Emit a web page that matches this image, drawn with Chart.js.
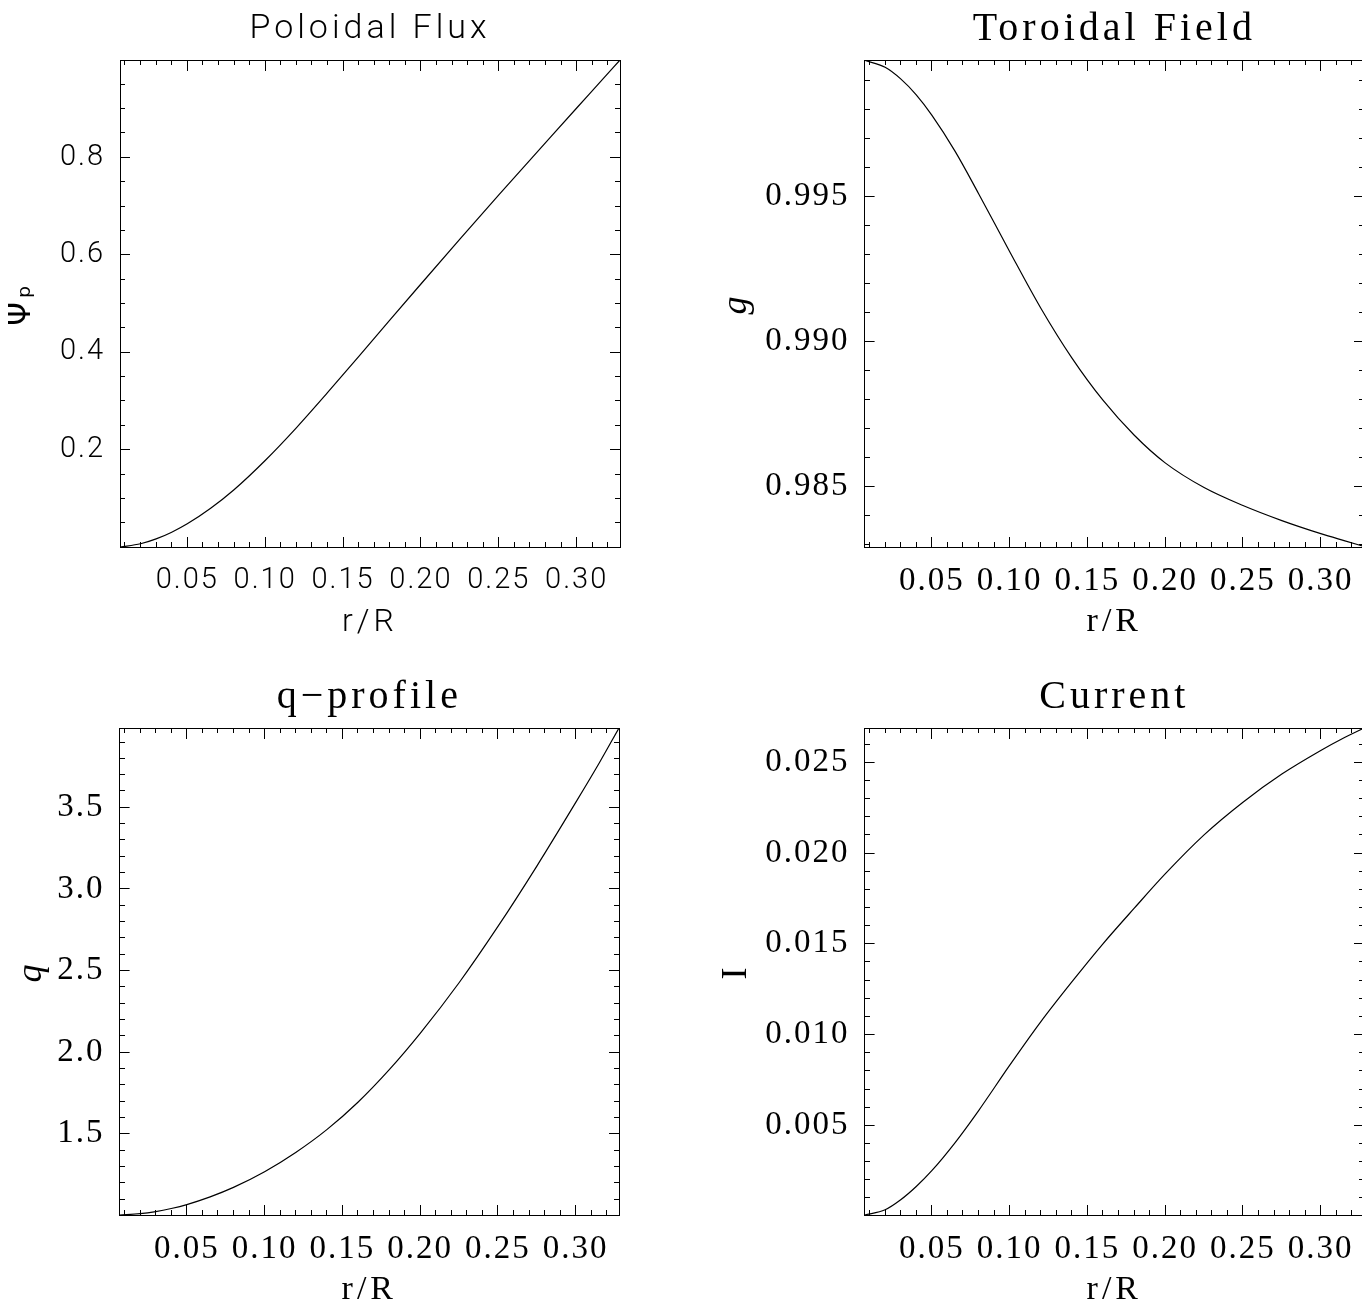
<!DOCTYPE html>
<html>
<head>
<meta charset="utf-8">
<title>Equilibrium profiles</title>
<script src="https://cdn.jsdelivr.net/npm/chart.js@4.4.1/dist/chart.umd.min.js"></script>
<style>
    html, body {
        margin: 0;
        padding: 0;
        background: #fff;
        width: 1362px;
        height: 1306px;
        overflow: hidden;
    }
    canvas {
        position: absolute;
    }
</style>
</head>
<body>
<canvas id="poloidal-flux-chart"></canvas>
<canvas id="toroidal-field-chart"></canvas>
<canvas id="q-profile-chart"></canvas>
<canvas id="current-chart"></canvas>
<script>
// r/R grid and the four profiles
const radius = [0.0068, 0.02, 0.03, 0.04, 0.05, 0.065, 0.08, 0.10, 0.12, 0.14, 0.16, 0.18, 0.20, 0.225, 0.25, 0.275, 0.30, 0.315, 0.3278];
const poloidalFlux = [0.0005, 0.0071, 0.0171, 0.0309, 0.0481, 0.080, 0.118, 0.178, 0.245, 0.317, 0.391, 0.466, 0.540, 0.632, 0.723, 0.812, 0.901, 0.954, 0.9995];
const toroidalField = [0.99969, 0.99945, 0.99905, 0.99850, 0.99780, 0.99655, 0.99510, 0.99310, 0.99115, 0.98943, 0.98797, 0.98677, 0.98581, 0.98496, 0.98434, 0.98382, 0.98337, 0.98313, 0.98293];
const qProfile = [1.002, 1.010, 1.023, 1.042, 1.066, 1.113, 1.171, 1.267, 1.385, 1.525, 1.693, 1.891, 2.115, 2.425, 2.770, 3.140, 3.530, 3.770, 3.986];
const current = [0.00006, 0.00035, 0.00090, 0.00163, 0.00250, 0.00405, 0.0058, 0.0083, 0.0107, 0.0129, 0.0150, 0.01695, 0.01885, 0.0210, 0.0228, 0.02435, 0.02565, 0.02635, 0.02689];

// labelled ticks
const radiusTicks = [0.05, 0.10, 0.15, 0.20, 0.25, 0.30];
const fluxTicks = [0.2, 0.4, 0.6, 0.8];
const fieldTicks = [0.985, 0.990, 0.995];
const qTicks = [1.5, 2.0, 2.5, 3.0, 3.5];
const currentTicks = [0.005, 0.010, 0.015, 0.020, 0.025];

// axis ranges (exact data ranges, like the original) and minor tick steps
const radiusRange = [0.0068, 0.3278];
const fluxRange = [0.0005, 0.9995];
const fieldRange = [0.98291, 0.99970];
const qRange = [1.002, 3.986];
const currentRange = [0.00006, 0.02689];
const radiusMinor = 0.01;
const fluxMinor = 0.05;
const fieldMinor = 0.001;
const qMinor = 0.1;
const currentMinor = 0.001;

const PLOT_W = 500;
const PLOT_H = 487;
const TITLE_H = 60;
const X_AXIS_H = 95;
const RIGHT_GAP = 10;

const SANS = 'Roboto';
const SERIF = 'Liberation Serif';

const sansFonts = {
    title: {family: SANS, weight: 300, size: 34, lineHeight: 1.2},
    ticks: {family: SANS, weight: 300, size: 29, lineHeight: 1.2},
    axis: {family: SANS, weight: 300, size: 32, lineHeight: 1.2},
    yAxis: {family: 'DejaVu Sans', weight: 'normal', size: 30, lineHeight: 1.2},
    spacing: {title: '4px', ticks: '2px'}
};
const serifFonts = {
    title: {family: SERIF, weight: 'normal', size: 40, lineHeight: 1.2},
    ticks: {family: SERIF, weight: 'normal', size: 33, lineHeight: 1.2},
    axis: {family: SERIF, weight: 'normal', size: 34, lineHeight: 1.2},
    yAxis: {family: SERIF, weight: 'normal', size: 36, style: 'italic', lineHeight: 1.2},
    spacing: {title: '4px', ticks: '2px'}
};

//wide hershey-like letter spacing, titles get more than tick labels
const spacingPlugin = {
    id: 'letterSpacing',
    beforeDraw(chart, args, opts) {
        chart.ctx.letterSpacing = opts.title;
    },
    beforeDatasetsDraw(chart, args, opts) {
        chart.ctx.letterSpacing = opts.ticks;
    }
};

function minorTicks(range, step) {
    const ticks = [];
    for (let i = Math.ceil(range[0] / step - 1e-9); i * step <= range[1] + 1e-12; i++) {
        ticks.push(+(i * step).toFixed(6));
    }
    return ticks;
}

function setTicks(values) {
    return scale => {
        scale.ticks = values.map(v => ({value: v}));
    };
}

function tickMarks(axis, range, values, length, position, border) {
    return {
        type: 'linear',
        axis: axis,
        position: position,
        min: range[0],
        max: range[1],
        bounds: 'data',
        afterBuildTicks: setTicks(values),
        ticks: {display: false, autoSkip: false},
        grid: {drawOnChartArea: false, drawTicks: true, tickLength: length, tickColor: '#000', tickWidth: 1},
        border: {display: border, color: '#000', width: 1}
    };
}

function renderPanel(panel) {
    const fonts = panel.fonts;
    const yTitleHalf = fonts.yAxis.size * fonts.yAxis.lineHeight / 2;
    const yAxisWidth = panel.left - (panel.yTitleX - yTitleHalf);

    const canvas = document.getElementById(panel.id);
    canvas.width = yAxisWidth + PLOT_W + RIGHT_GAP;
    canvas.height = TITLE_H + PLOT_H + X_AXIS_H;
    canvas.style.left = (panel.left - yAxisWidth) + 'px';
    canvas.style.top = (panel.top - TITLE_H) + 'px';

    const titleLine = fonts.title.size * fonts.title.lineHeight;
    const titleTop = 29 - titleLine / 2;
    const xTickHalf = fonts.ticks.size * fonts.ticks.lineHeight / 2;

    const xs = radiusRange, ys = panel.range;
    const xMinor = minorTicks(xs, radiusMinor);
    const yMinor = minorTicks(ys, panel.minor);

    return new Chart(canvas.getContext('2d'), {
        type: 'line',
        data: {
            datasets: [{
                data: radius.map((r, i) => ({x: r, y: panel.values[i]})),
                borderColor: '#000',
                borderWidth: 1.2,
                pointRadius: 0,
                fill: false,
                cubicInterpolationMode: 'monotone'
            }]
        },
        options: {
            responsive: false,
            animation: false,
            events: [],
            layout: {padding: {top: 0, right: RIGHT_GAP, bottom: 0, left: 0}},
            scales: {
                x: {
                    type: 'linear',
                    position: 'bottom',
                    min: xs[0],
                    max: xs[1],
                    bounds: 'data',
                    afterBuildTicks: setTicks(radiusTicks),
                    ticks: {
                        autoSkip: false,
                        maxRotation: 0,
                        padding: 34 + 10 - xTickHalf,
                        color: '#000',
                        font: fonts.ticks,
                        z: 1,
                        callback: v => v.toFixed(2)
                    },
                    grid: {drawOnChartArea: false, drawTicks: true, tickLength: -10, tickColor: '#000', tickWidth: 1},
                    border: {display: true, color: '#000', width: 1},
                    title: {display: true, text: 'r/R', color: '#000', font: fonts.axis, padding: 0},
                    afterFit(scale) {
                        scale.height = X_AXIS_H;
                        scale.paddingLeft = 0;
                        scale.paddingRight = 0;
                    }
                },
                y: {
                    type: 'linear',
                    position: 'left',
                    min: ys[0],
                    max: ys[1],
                    bounds: 'data',
                    afterBuildTicks: setTicks(panel.ticks),
                    ticks: {
                        autoSkip: false,
                        padding: 25,
                        color: '#000',
                        font: fonts.ticks,
                        z: 1,
                        callback: v => v.toFixed(panel.digits)
                    },
                    grid: {drawOnChartArea: false, drawTicks: true, tickLength: -10, tickColor: '#000', tickWidth: 1},
                    border: {display: true, color: '#000', width: 1},
                    title: {display: true, text: panel.yTitle, color: '#000', font: fonts.yAxis, padding: 0},
                    afterFit(scale) {
                        scale.width = yAxisWidth;
                        scale.paddingTop = 0;
                        scale.paddingBottom = 0;
                    }
                },
                xMinorBottom: tickMarks('x', xs, xMinor, -5, {y: ys[0]}, false),
                xMajorTop: tickMarks('x', xs, radiusTicks, 10, {y: ys[1]}, true),
                xMinorTop: tickMarks('x', xs, xMinor, 5, {y: ys[1]}, false),
                yMinorLeft: tickMarks('y', ys, yMinor, -5, {x: xs[0]}, false),
                yMajorRight: tickMarks('y', ys, panel.ticks, 10, {x: xs[1]}, true),
                yMinorRight: tickMarks('y', ys, yMinor, 5, {x: xs[1]}, false)
            },
            plugins: {
                legend: {display: false},
                tooltip: {enabled: false},
                title: {
                    display: true,
                    fullSize: false,
                    text: panel.title,
                    color: '#000',
                    font: fonts.title,
                    padding: {top: titleTop, bottom: TITLE_H - titleLine - titleTop}
                },
                letterSpacing: fonts.spacing
            }
        },
        plugins: [spacingPlugin]
    });
}

renderPanel({
    id: 'poloidal-flux-chart', left: 120, top: 60, yTitleX: 22,
    title: 'Poloidal Flux', yTitle: 'Ψₚ', fonts: sansFonts,
    values: poloidalFlux, range: fluxRange, ticks: fluxTicks, minor: fluxMinor, digits: 1
});
renderPanel({
    id: 'toroidal-field-chart', left: 865, top: 60, yTitleX: 737,
    title: 'Toroidal Field', yTitle: 'g', fonts: serifFonts,
    values: toroidalField, range: fieldRange, ticks: fieldTicks, minor: fieldMinor, digits: 3
});
renderPanel({
    id: 'q-profile-chart', left: 120, top: 728, yTitleX: 32,
    title: 'q−profile', yTitle: 'q', fonts: serifFonts,
    values: qProfile, range: qRange, ticks: qTicks, minor: qMinor, digits: 1
});
renderPanel({
    id: 'current-chart', left: 865, top: 728, yTitleX: 737,
    title: 'Current', yTitle: 'I', fonts: {...serifFonts, yAxis: {family: SERIF, weight: 'normal', size: 36, lineHeight: 1.2}},
    values: current, range: currentRange, ticks: currentTicks, minor: currentMinor, digits: 3
});
</script>
</body>
</html>
